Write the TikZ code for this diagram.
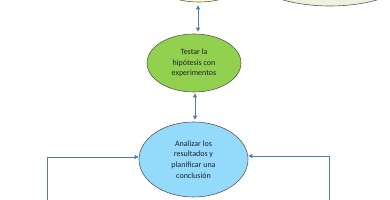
\documentclass[tikz,border=0pt]{standalone}
\usepackage{fontspec}
\setmainfont{Carlito}
\usetikzlibrary{shapes.geometric,arrows.meta}
\definecolor{okgreen}{HTML}{92D050}
\definecolor{okblue}{HTML}{93DAFB}
\definecolor{okyellow}{HTML}{FFFFD0}
\definecolor{okgray}{HTML}{EEF0E0}
\definecolor{arrowblue}{HTML}{4A7EBB}
\definecolor{edgegray}{HTML}{5A5A5A}
\definecolor{txt}{HTML}{202030}
\tikzset{
  bubble/.style={ellipse, draw=edgegray, line width=0.6pt, inner sep=0pt, align=center,
    text=txt, font=\fontsize{8}{10.8}\selectfont},
  link/.style={draw=arrowblue, line width=0.8pt, -{Triangle[length=4pt,width=4pt]}},
  dbl/.style={draw=arrowblue, line width=0.8pt, {Triangle[length=4pt,width=4pt]}-{Triangle[length=4pt,width=4pt]}},
}
\begin{document}
\begin{tikzpicture}[x=1pt,y=-1pt]
\useasboundingbox (0,0) rectangle (390,200);
\clip (0,0) rectangle (390,200);
\node[bubble, fill=okyellow, minimum width=110pt, minimum height=64pt] (top) at (199,-30) {};
\node[bubble, fill=okgray, minimum width=190pt, minimum height=92pt] (topr) at (330,-40) {};
\node[bubble, fill=okgreen, minimum width=94pt, minimum height=58pt] (test) at (194,63)
  {Testar la\\hipótesis con\\experimentos};
\node[bubble, fill=okblue, minimum width=109pt, minimum height=75pt] (anal) at (193.5,159.5)
  {Analizar los\\resultados y\\planificar una\\conclusión};
\coordinate (lstart) at (47,201);
\coordinate (rstart) at (329,201);
\draw[dbl] ([xshift=-1pt,yshift=-3pt]top.south) -- ([xshift=4pt,yshift=2pt]test.north);
\draw[dbl] ([xshift=1pt,yshift=-1pt]test.south) -- ([xshift=1.5pt,yshift=2pt]anal.north);
\draw[link] (lstart) |- ([yshift=2.5pt]anal.west);
\draw[link] (rstart) |- ([yshift=3.5pt]anal.east);
\end{tikzpicture}
\end{document}
